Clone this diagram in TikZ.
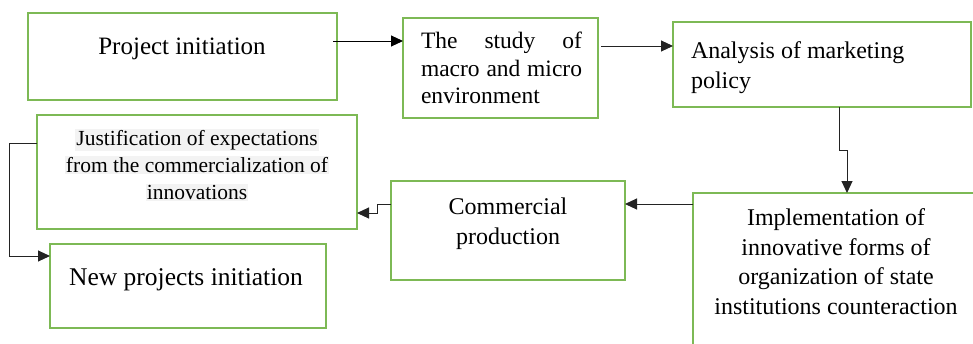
\documentclass[tikz,border=0pt]{standalone}
\usepackage{fontspec}
\setmainfont{Liberation Serif}
\usetikzlibrary{arrows.meta,calc}
\definecolor{boxgreen}{RGB}{125,185,85}
\definecolor{hl}{RGB}{243,243,243}
\definecolor{linegray}{RGB}{35,35,35}
\newcommand{\hlline}[1]{{\setlength{\fboxsep}{1pt}\colorbox{hl}{#1}}}
\begin{document}
\begin{tikzpicture}[x=1pt,y=-1pt,
  box/.style={draw=boxgreen,line width=2pt,inner sep=0pt,outer sep=0pt},
  lbl/.style={inner sep=0pt,outer sep=0pt,align=center,font=\fontsize{24}{30}\selectfont},
  arr/.style={draw=linegray,line width=1pt,-{Triangle[length=12pt,width=11pt]}}]
\useasboundingbox (0,0) rectangle (973,343);
\clip (0,0) rectangle (973,343);
% boxes
\node[box,minimum width=309pt,minimum height=87pt] (b1) at (182.5,56.5) {};
\node[box,minimum width=195pt,minimum height=100pt] (b2) at (500.5,68) {};
\node[box,minimum width=298pt,minimum height=85pt] (b3) at (822,64.5) {};
\node[box,minimum width=320pt,minimum height=114pt] (b4) at (197,172) {};
\node[box,minimum width=276pt,minimum height=84pt] (b5) at (188,286) {};
\node[box,minimum width=234pt,minimum height=99pt] (b6) at (508,230.5) {};
\node[box,minimum width=307pt,minimum height=187pt] (b7) at (846.5,286.5) {};
% texts
\node[lbl,font=\fontsize{25}{30}\selectfont] (t1) at (182,49) {Project initiation};
\node[lbl,anchor=west,align=left,font=\fontsize{23.5}{27.5}\selectfont] (t2) at (421,68)
  {\hbox to 161pt{The\hfill study\hfill of}\\\hbox to 161pt{macro\hfill and\hfill micro}\\environment};
\node[lbl,anchor=west,align=left] (t3) at (691,68) {Analysis of marketing\\policy};
\node[lbl,font=\fontsize{21.5}{27}\selectfont] (t4) at (197,165)
  {\hlline{Justification of expectations}\\\hlline{from the commercialization of}\\\hlline{innovations}};
\node[lbl,font=\fontsize{25.5}{30}\selectfont] (t5) at (186,280) {New projects initiation};
\node[lbl,font=\fontsize{24}{30.5}\selectfont] (t6) at (508,223.5) {Commercial\\production};
\node[lbl,font=\fontsize{24}{29.5}\selectfont] (t7) at (836,261.5)
  {Implementation of\\innovative forms of\\organization of state\\institutions counteraction};
% connectors
\draw[arr,draw=black] ([xshift=-4pt]b1.east |- 0,41) -- (b2.west |- 0,41);
\draw[arr] ([xshift=3pt]b2.east |- 0,46) -- (b3.west |- 0,46);
\draw[arr] (b3.south -| 839,0) -- (839,150) -- (847,150) -- (b7.north -| 847,0);
\draw[arr] (b7.west |- 0,204) -- (b6.east |- 0,204);
\draw[arr] (b6.west |- 0,204) -- (377,204) -- (377,213) -- (b4.east |- 0,213);
\draw[arr] (b4.west |- 0,143) -- (9,143) -- (9,256) -- (b5.west |- 0,256);
\end{tikzpicture}
\end{document}
